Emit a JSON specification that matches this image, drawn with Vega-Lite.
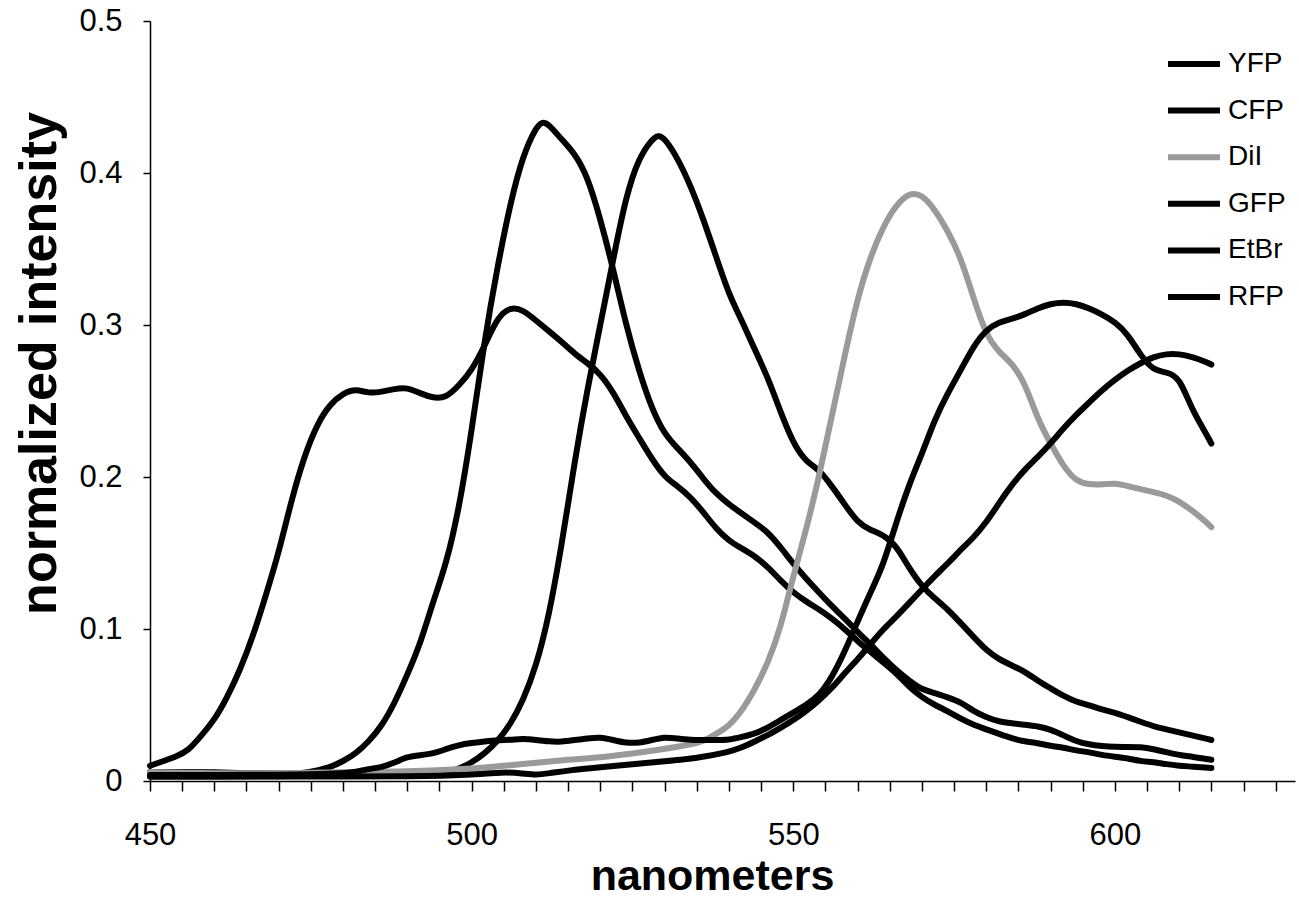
{
  "$schema": "https://vega.github.io/schema/vega-lite/v6.json",
  "width": 1145,
  "height": 760,
  "autosize": {"type": "none"},
  "padding": {"left": 150, "top": 21, "right": 4, "bottom": 122},
  "background": "white",
  "config": {"view": {"stroke": null}, "font": "Liberation Sans"},
  "datasets": {
    "spectra": [
      {"s":"CFP","x":450,"y":0.010},{"s":"CFP","x":452,"y":0.013},{"s":"CFP","x":454,"y":0.016},{"s":"CFP","x":456,"y":0.020},{"s":"CFP","x":458,"y":0.030},{"s":"CFP","x":460,"y":0.040},{"s":"CFP","x":462,"y":0.055},{"s":"CFP","x":464,"y":0.073},{"s":"CFP","x":466,"y":0.095},{"s":"CFP","x":468,"y":0.122},{"s":"CFP","x":470,"y":0.150},{"s":"CFP","x":472,"y":0.185},{"s":"CFP","x":474,"y":0.214},{"s":"CFP","x":476,"y":0.235},{"s":"CFP","x":478,"y":0.248},{"s":"CFP","x":480,"y":0.255},{"s":"CFP","x":482,"y":0.258},{"s":"CFP","x":484,"y":0.255},{"s":"CFP","x":486,"y":0.256},{"s":"CFP","x":488,"y":0.258},{"s":"CFP","x":490,"y":0.259},{"s":"CFP","x":492,"y":0.255},{"s":"CFP","x":494,"y":0.252},{"s":"CFP","x":496,"y":0.252},{"s":"CFP","x":498,"y":0.260},{"s":"CFP","x":500,"y":0.270},{"s":"CFP","x":502,"y":0.286},{"s":"CFP","x":504,"y":0.305},{"s":"CFP","x":506,"y":0.312},{"s":"CFP","x":508,"y":0.310},{"s":"CFP","x":510,"y":0.303},{"s":"CFP","x":512,"y":0.296},{"s":"CFP","x":514,"y":0.289},{"s":"CFP","x":516,"y":0.281},{"s":"CFP","x":518,"y":0.275},{"s":"CFP","x":520,"y":0.268},{"s":"CFP","x":522,"y":0.256},{"s":"CFP","x":524,"y":0.240},{"s":"CFP","x":526,"y":0.226},{"s":"CFP","x":528,"y":0.212},{"s":"CFP","x":530,"y":0.200},{"s":"CFP","x":532,"y":0.194},{"s":"CFP","x":534,"y":0.187},{"s":"CFP","x":536,"y":0.177},{"s":"CFP","x":538,"y":0.166},{"s":"CFP","x":540,"y":0.158},{"s":"CFP","x":542,"y":0.153},{"s":"CFP","x":544,"y":0.148},{"s":"CFP","x":546,"y":0.141},{"s":"CFP","x":548,"y":0.132},{"s":"CFP","x":550,"y":0.124},{"s":"CFP","x":552,"y":0.118},{"s":"CFP","x":554,"y":0.113},{"s":"CFP","x":556,"y":0.107},{"s":"CFP","x":558,"y":0.100},{"s":"CFP","x":560,"y":0.092},{"s":"CFP","x":562,"y":0.085},{"s":"CFP","x":564,"y":0.078},{"s":"CFP","x":566,"y":0.071},{"s":"CFP","x":568,"y":0.062},{"s":"CFP","x":570,"y":0.055},{"s":"CFP","x":572,"y":0.050},{"s":"CFP","x":574,"y":0.046},{"s":"CFP","x":576,"y":0.041},{"s":"CFP","x":578,"y":0.037},{"s":"CFP","x":580,"y":0.034},{"s":"CFP","x":582,"y":0.031},{"s":"CFP","x":584,"y":0.028},{"s":"CFP","x":586,"y":0.026},{"s":"CFP","x":588,"y":0.025},{"s":"CFP","x":590,"y":0.023},{"s":"CFP","x":592,"y":0.022},{"s":"CFP","x":594,"y":0.020},{"s":"CFP","x":596,"y":0.019},{"s":"CFP","x":598,"y":0.017},{"s":"CFP","x":600,"y":0.016},{"s":"CFP","x":602,"y":0.015},{"s":"CFP","x":604,"y":0.013},{"s":"CFP","x":606,"y":0.0125},{"s":"CFP","x":608,"y":0.011},{"s":"CFP","x":610,"y":0.010},{"s":"CFP","x":612,"y":0.0095},{"s":"CFP","x":615,"y":0.0085},

      {"s":"GFP","x":450,"y":0.006},{"s":"GFP","x":455,"y":0.006},{"s":"GFP","x":460,"y":0.006},{"s":"GFP","x":465,"y":0.005},{"s":"GFP","x":470,"y":0.005},{"s":"GFP","x":474,"y":0.005},{"s":"GFP","x":476,"y":0.007},{"s":"GFP","x":478,"y":0.009},{"s":"GFP","x":480,"y":0.013},{"s":"GFP","x":482,"y":0.018},{"s":"GFP","x":484,"y":0.026},{"s":"GFP","x":486,"y":0.036},{"s":"GFP","x":488,"y":0.051},{"s":"GFP","x":490,"y":0.070},{"s":"GFP","x":492,"y":0.090},{"s":"GFP","x":494,"y":0.118},{"s":"GFP","x":496,"y":0.142},{"s":"GFP","x":498,"y":0.178},{"s":"GFP","x":500,"y":0.230},{"s":"GFP","x":502,"y":0.290},{"s":"GFP","x":504,"y":0.338},{"s":"GFP","x":506,"y":0.380},{"s":"GFP","x":508,"y":0.412},{"s":"GFP","x":510,"y":0.430},{"s":"GFP","x":511,"y":0.434},{"s":"GFP","x":512,"y":0.432},{"s":"GFP","x":514,"y":0.422},{"s":"GFP","x":516,"y":0.413},{"s":"GFP","x":518,"y":0.398},{"s":"GFP","x":520,"y":0.370},{"s":"GFP","x":522,"y":0.337},{"s":"GFP","x":524,"y":0.300},{"s":"GFP","x":526,"y":0.270},{"s":"GFP","x":528,"y":0.245},{"s":"GFP","x":530,"y":0.228},{"s":"GFP","x":532,"y":0.219},{"s":"GFP","x":534,"y":0.210},{"s":"GFP","x":536,"y":0.199},{"s":"GFP","x":538,"y":0.189},{"s":"GFP","x":540,"y":0.182},{"s":"GFP","x":542,"y":0.176},{"s":"GFP","x":544,"y":0.170},{"s":"GFP","x":546,"y":0.164},{"s":"GFP","x":548,"y":0.154},{"s":"GFP","x":550,"y":0.143},{"s":"GFP","x":552,"y":0.133},{"s":"GFP","x":554,"y":0.124},{"s":"GFP","x":556,"y":0.115},{"s":"GFP","x":558,"y":0.107},{"s":"GFP","x":560,"y":0.098},{"s":"GFP","x":562,"y":0.090},{"s":"GFP","x":564,"y":0.081},{"s":"GFP","x":566,"y":0.073},{"s":"GFP","x":568,"y":0.066},{"s":"GFP","x":570,"y":0.060},{"s":"GFP","x":572,"y":0.058},{"s":"GFP","x":574,"y":0.055},{"s":"GFP","x":576,"y":0.052},{"s":"GFP","x":578,"y":0.046},{"s":"GFP","x":580,"y":0.042},{"s":"GFP","x":582,"y":0.039},{"s":"GFP","x":584,"y":0.038},{"s":"GFP","x":586,"y":0.037},{"s":"GFP","x":588,"y":0.036},{"s":"GFP","x":590,"y":0.034},{"s":"GFP","x":592,"y":0.030},{"s":"GFP","x":594,"y":0.026},{"s":"GFP","x":596,"y":0.024},{"s":"GFP","x":598,"y":0.023},{"s":"GFP","x":600,"y":0.0224},{"s":"GFP","x":602,"y":0.0224},{"s":"GFP","x":604,"y":0.0224},{"s":"GFP","x":606,"y":0.021},{"s":"GFP","x":608,"y":0.019},{"s":"GFP","x":610,"y":0.017},{"s":"GFP","x":612,"y":0.016},{"s":"GFP","x":615,"y":0.014},

      {"s":"YFP","x":450,"y":0.003},{"s":"YFP","x":460,"y":0.003},{"s":"YFP","x":470,"y":0.003},{"s":"YFP","x":480,"y":0.004},{"s":"YFP","x":490,"y":0.004},{"s":"YFP","x":495,"y":0.005},{"s":"YFP","x":497,"y":0.006},{"s":"YFP","x":500,"y":0.012},{"s":"YFP","x":502,"y":0.018},{"s":"YFP","x":504,"y":0.026},{"s":"YFP","x":506,"y":0.037},{"s":"YFP","x":508,"y":0.053},{"s":"YFP","x":510,"y":0.075},{"s":"YFP","x":512,"y":0.108},{"s":"YFP","x":514,"y":0.155},{"s":"YFP","x":516,"y":0.210},{"s":"YFP","x":518,"y":0.258},{"s":"YFP","x":520,"y":0.300},{"s":"YFP","x":522,"y":0.343},{"s":"YFP","x":524,"y":0.385},{"s":"YFP","x":526,"y":0.410},{"s":"YFP","x":528,"y":0.422},{"s":"YFP","x":529,"y":0.425},{"s":"YFP","x":530,"y":0.423},{"s":"YFP","x":532,"y":0.410},{"s":"YFP","x":534,"y":0.392},{"s":"YFP","x":536,"y":0.370},{"s":"YFP","x":538,"y":0.345},{"s":"YFP","x":540,"y":0.320},{"s":"YFP","x":542,"y":0.303},{"s":"YFP","x":544,"y":0.284},{"s":"YFP","x":546,"y":0.266},{"s":"YFP","x":548,"y":0.243},{"s":"YFP","x":550,"y":0.222},{"s":"YFP","x":552,"y":0.210},{"s":"YFP","x":554,"y":0.205},{"s":"YFP","x":556,"y":0.194},{"s":"YFP","x":558,"y":0.182},{"s":"YFP","x":560,"y":0.170},{"s":"YFP","x":562,"y":0.165},{"s":"YFP","x":564,"y":0.162},{"s":"YFP","x":566,"y":0.155},{"s":"YFP","x":568,"y":0.140},{"s":"YFP","x":570,"y":0.128},{"s":"YFP","x":572,"y":0.120},{"s":"YFP","x":574,"y":0.113},{"s":"YFP","x":576,"y":0.104},{"s":"YFP","x":578,"y":0.095},{"s":"YFP","x":580,"y":0.086},{"s":"YFP","x":582,"y":0.080},{"s":"YFP","x":584,"y":0.076},{"s":"YFP","x":586,"y":0.072},{"s":"YFP","x":588,"y":0.066},{"s":"YFP","x":590,"y":0.061},{"s":"YFP","x":592,"y":0.056},{"s":"YFP","x":594,"y":0.052},{"s":"YFP","x":596,"y":0.050},{"s":"YFP","x":598,"y":0.047},{"s":"YFP","x":600,"y":0.045},{"s":"YFP","x":602,"y":0.042},{"s":"YFP","x":604,"y":0.039},{"s":"YFP","x":606,"y":0.036},{"s":"YFP","x":608,"y":0.034},{"s":"YFP","x":610,"y":0.032},{"s":"YFP","x":612,"y":0.030},{"s":"YFP","x":615,"y":0.027},

      {"s":"DiI","x":450,"y":0.006},{"s":"DiI","x":460,"y":0.005},{"s":"DiI","x":470,"y":0.005},{"s":"DiI","x":480,"y":0.006},{"s":"DiI","x":490,"y":0.006},{"s":"DiI","x":500,"y":0.008},{"s":"DiI","x":505,"y":0.010},{"s":"DiI","x":510,"y":0.012},{"s":"DiI","x":515,"y":0.014},{"s":"DiI","x":520,"y":0.0155},{"s":"DiI","x":525,"y":0.018},{"s":"DiI","x":530,"y":0.021},{"s":"DiI","x":534,"y":0.024},{"s":"DiI","x":536,"y":0.026},{"s":"DiI","x":538,"y":0.031},{"s":"DiI","x":540,"y":0.036},{"s":"DiI","x":542,"y":0.046},{"s":"DiI","x":544,"y":0.060},{"s":"DiI","x":546,"y":0.077},{"s":"DiI","x":548,"y":0.100},{"s":"DiI","x":550,"y":0.135},{"s":"DiI","x":552,"y":0.165},{"s":"DiI","x":554,"y":0.200},{"s":"DiI","x":556,"y":0.240},{"s":"DiI","x":558,"y":0.280},{"s":"DiI","x":560,"y":0.318},{"s":"DiI","x":562,"y":0.345},{"s":"DiI","x":564,"y":0.365},{"s":"DiI","x":566,"y":0.379},{"s":"DiI","x":568,"y":0.387},{"s":"DiI","x":570,"y":0.386},{"s":"DiI","x":572,"y":0.376},{"s":"DiI","x":574,"y":0.362},{"s":"DiI","x":576,"y":0.345},{"s":"DiI","x":578,"y":0.318},{"s":"DiI","x":580,"y":0.293},{"s":"DiI","x":582,"y":0.282},{"s":"DiI","x":584,"y":0.275},{"s":"DiI","x":586,"y":0.262},{"s":"DiI","x":588,"y":0.238},{"s":"DiI","x":590,"y":0.222},{"s":"DiI","x":592,"y":0.207},{"s":"DiI","x":594,"y":0.197},{"s":"DiI","x":596,"y":0.195},{"s":"DiI","x":598,"y":0.195},{"s":"DiI","x":600,"y":0.196},{"s":"DiI","x":602,"y":0.194},{"s":"DiI","x":604,"y":0.192},{"s":"DiI","x":606,"y":0.190},{"s":"DiI","x":608,"y":0.188},{"s":"DiI","x":610,"y":0.184},{"s":"DiI","x":612,"y":0.178},{"s":"DiI","x":614,"y":0.171},{"s":"DiI","x":615,"y":0.167},

      {"s":"RFP","x":450,"y":0.004},{"s":"RFP","x":460,"y":0.004},{"s":"RFP","x":470,"y":0.004},{"s":"RFP","x":480,"y":0.005},{"s":"RFP","x":482,"y":0.006},{"s":"RFP","x":484,"y":0.008},{"s":"RFP","x":486,"y":0.009},{"s":"RFP","x":488,"y":0.012},{"s":"RFP","x":490,"y":0.016},{"s":"RFP","x":492,"y":0.017},{"s":"RFP","x":494,"y":0.018},{"s":"RFP","x":496,"y":0.021},{"s":"RFP","x":498,"y":0.0237},{"s":"RFP","x":500,"y":0.025},{"s":"RFP","x":502,"y":0.026},{"s":"RFP","x":504,"y":0.027},{"s":"RFP","x":506,"y":0.027},{"s":"RFP","x":508,"y":0.028},{"s":"RFP","x":510,"y":0.027},{"s":"RFP","x":512,"y":0.026},{"s":"RFP","x":514,"y":0.0257},{"s":"RFP","x":516,"y":0.027},{"s":"RFP","x":518,"y":0.028},{"s":"RFP","x":520,"y":0.029},{"s":"RFP","x":522,"y":0.027},{"s":"RFP","x":524,"y":0.025},{"s":"RFP","x":526,"y":0.025},{"s":"RFP","x":528,"y":0.027},{"s":"RFP","x":530,"y":0.029},{"s":"RFP","x":532,"y":0.028},{"s":"RFP","x":534,"y":0.027},{"s":"RFP","x":536,"y":0.027},{"s":"RFP","x":538,"y":0.027},{"s":"RFP","x":540,"y":0.027},{"s":"RFP","x":542,"y":0.029},{"s":"RFP","x":544,"y":0.031},{"s":"RFP","x":546,"y":0.035},{"s":"RFP","x":548,"y":0.040},{"s":"RFP","x":550,"y":0.045},{"s":"RFP","x":552,"y":0.050},{"s":"RFP","x":554,"y":0.056},{"s":"RFP","x":556,"y":0.068},{"s":"RFP","x":558,"y":0.085},{"s":"RFP","x":560,"y":0.105},{"s":"RFP","x":562,"y":0.124},{"s":"RFP","x":564,"y":0.142},{"s":"RFP","x":566,"y":0.170},{"s":"RFP","x":568,"y":0.195},{"s":"RFP","x":570,"y":0.215},{"s":"RFP","x":572,"y":0.238},{"s":"RFP","x":574,"y":0.255},{"s":"RFP","x":576,"y":0.270},{"s":"RFP","x":578,"y":0.286},{"s":"RFP","x":580,"y":0.297},{"s":"RFP","x":582,"y":0.302},{"s":"RFP","x":584,"y":0.304},{"s":"RFP","x":586,"y":0.307},{"s":"RFP","x":588,"y":0.311},{"s":"RFP","x":590,"y":0.314},{"s":"RFP","x":592,"y":0.315},{"s":"RFP","x":594,"y":0.314},{"s":"RFP","x":596,"y":0.311},{"s":"RFP","x":598,"y":0.307},{"s":"RFP","x":600,"y":0.302},{"s":"RFP","x":602,"y":0.294},{"s":"RFP","x":604,"y":0.280},{"s":"RFP","x":606,"y":0.270},{"s":"RFP","x":608,"y":0.269},{"s":"RFP","x":610,"y":0.266},{"s":"RFP","x":612,"y":0.244},{"s":"RFP","x":614,"y":0.230},{"s":"RFP","x":615,"y":0.222},

      {"s":"EtBr","x":450,"y":0.003},{"s":"EtBr","x":460,"y":0.003},{"s":"EtBr","x":470,"y":0.003},{"s":"EtBr","x":480,"y":0.003},{"s":"EtBr","x":490,"y":0.003},{"s":"EtBr","x":500,"y":0.004},{"s":"EtBr","x":505,"y":0.006},{"s":"EtBr","x":508,"y":0.005},{"s":"EtBr","x":510,"y":0.004},{"s":"EtBr","x":512,"y":0.005},{"s":"EtBr","x":515,"y":0.007},{"s":"EtBr","x":520,"y":0.009},{"s":"EtBr","x":525,"y":0.011},{"s":"EtBr","x":530,"y":0.013},{"s":"EtBr","x":535,"y":0.015},{"s":"EtBr","x":540,"y":0.019},{"s":"EtBr","x":542,"y":0.022},{"s":"EtBr","x":544,"y":0.026},{"s":"EtBr","x":546,"y":0.030},{"s":"EtBr","x":548,"y":0.035},{"s":"EtBr","x":550,"y":0.040},{"s":"EtBr","x":552,"y":0.046},{"s":"EtBr","x":554,"y":0.053},{"s":"EtBr","x":556,"y":0.061},{"s":"EtBr","x":558,"y":0.071},{"s":"EtBr","x":560,"y":0.080},{"s":"EtBr","x":562,"y":0.090},{"s":"EtBr","x":564,"y":0.100},{"s":"EtBr","x":566,"y":0.108},{"s":"EtBr","x":568,"y":0.117},{"s":"EtBr","x":570,"y":0.126},{"s":"EtBr","x":572,"y":0.135},{"s":"EtBr","x":574,"y":0.143},{"s":"EtBr","x":576,"y":0.152},{"s":"EtBr","x":578,"y":0.160},{"s":"EtBr","x":580,"y":0.170},{"s":"EtBr","x":582,"y":0.183},{"s":"EtBr","x":584,"y":0.195},{"s":"EtBr","x":586,"y":0.205},{"s":"EtBr","x":588,"y":0.213},{"s":"EtBr","x":590,"y":0.222},{"s":"EtBr","x":592,"y":0.232},{"s":"EtBr","x":594,"y":0.241},{"s":"EtBr","x":596,"y":0.249},{"s":"EtBr","x":598,"y":0.257},{"s":"EtBr","x":600,"y":0.264},{"s":"EtBr","x":602,"y":0.270},{"s":"EtBr","x":604,"y":0.275},{"s":"EtBr","x":606,"y":0.279},{"s":"EtBr","x":608,"y":0.281},{"s":"EtBr","x":610,"y":0.281},{"s":"EtBr","x":612,"y":0.279},{"s":"EtBr","x":614,"y":0.276},{"s":"EtBr","x":615,"y":0.274}
    ]
  },
  "data": {"name": "spectra"},
  "mark": {"type": "line", "interpolate": "basis", "strokeCap": "round", "strokeJoin": "round"},
  "encoding": {
    "x": {
      "field": "x", "type": "quantitative",
      "scale": {"domain": [450, 628], "nice": false, "zero": false},
      "axis": {
        "values": [450,455,460,465,470,475,480,485,490,495,500,505,510,515,520,525,530,535,540,545,550,555,560,565,570,575,580,585,590,595,600,605,610,615,620,625],
        "labelExpr": "datum.value % 50 === 0 ? datum.label : ''",
        "grid": false,
        "domainColor": "black", "domainWidth": 1.5,
        "tickColor": "black", "tickWidth": 1.5, "tickSize": 10,
        "encode": {"ticks": {"update": {"y": {"value": -8}, "y2": {"signal": "datum.value % 50 === 0 ? 10 : 0"}}}},
        "labelFont": "Liberation Sans", "labelFontSize": 31, "labelColor": "black",
        "labelBaseline": "alphabetic", "labelPadding": 53, "labelFlush": false, "labelOverlap": false,
        "title": "nanometers",
        "titleFont": "Liberation Sans", "titleFontSize": 43, "titleFontWeight": "bold", "titleColor": "black",
        "titleBaseline": "alphabetic", "titleX": 562, "titleY": 108, "titleAlign": "center"
      }
    },
    "y": {
      "field": "y", "type": "quantitative",
      "scale": {"domain": [0, 0.5], "nice": false},
      "axis": {
        "values": [0, 0.1, 0.2, 0.3, 0.4, 0.5],
        "format": ".1~f",
        "grid": false,
        "domainColor": "black", "domainWidth": 1.5,
        "tickColor": "black", "tickWidth": 1.5, "tickSize": 7,
        "labelFont": "Liberation Sans", "labelFontSize": 31, "labelColor": "black",
        "labelPadding": 21, "labelFlush": false,
        "title": "normalized intensity",
        "titleFont": "Liberation Sans", "titleFontSize": 52, "titleFontWeight": "bold", "titleColor": "black",
        "titleAngle": -90, "titleBaseline": "alphabetic", "titleAlign": "center", "titleX": -95, "titleY": 342
      }
    },
    "color": {
      "field": "s", "type": "nominal",
      "scale": {"domain": ["YFP","CFP","DiI","GFP","EtBr","RFP"], "range": ["#000000","#000000","#9a9a9a","#000000","#000000","#000000"]},
      "legend": {
        "orient": "none", "legendX": 1015, "legendY": 29, "title": null,
        "symbolType": "stroke", "symbolSize": 2704, "clipHeight": 28,
        "labelFont": "Liberation Sans", "labelFontSize": 28, "labelColor": "black", "labelOffset": 5,
        "rowPadding": 18.6, "padding": 0
      }
    },
    "strokeWidth": {
      "field": "s", "type": "nominal",
      "scale": {"domain": ["YFP","CFP","DiI","GFP","EtBr","RFP"], "range": [6,6,3.5,6,6,6]},
      "legend": {
        "orient": "none", "legendX": 1015, "legendY": 29, "title": null,
        "symbolType": "stroke", "symbolSize": 2704, "clipHeight": 28,
        "labelFont": "Liberation Sans", "labelFontSize": 28, "labelColor": "black", "labelOffset": 5,
        "rowPadding": 18.6, "padding": 0
      }
    }
  }
}
